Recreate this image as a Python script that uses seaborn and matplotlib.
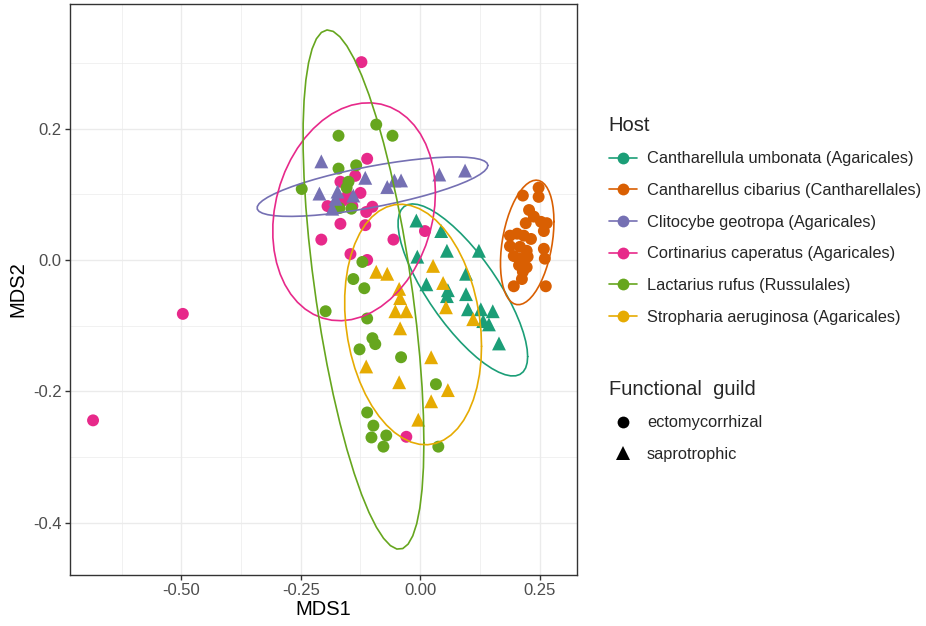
import numpy as np
import pandas as pd
import matplotlib
matplotlib.use("Agg")
import matplotlib.pyplot as plt
from matplotlib.lines import Line2D
import seaborn as sns

# ---------------- data ----------------
hosts = ["Cantharellula umbonata (Agaricales)",
         "Cantharellus cibarius (Cantharellales)",
         "Clitocybe geotropa (Agaricales)",
         "Cortinarius caperatus (Agaricales)",
         "Lactarius rufus (Russulales)",
         "Stropharia aeruginosa (Agaricales)"]
host_guild = ["saprotrophic", "ectomycorrhizal", "saprotrophic",
              "ectomycorrhizal", "ectomycorrhizal", "saprotrophic"]
guilds = ["ectomycorrhizal", "saprotrophic"]
palette = ["#1B9E77", "#D95F02", "#7570B3", "#E7298A", "#66A61E", "#E6AB02"]

umbonata_x = [-0.008, 0.044, 0.056, 0.123, -0.006, 0.013, 0.058, 0.056, 0.096, 0.096,
              0.100, 0.127, 0.152, 0.132, 0.144, 0.165]
umbonata_y = [0.060, 0.044, 0.014, 0.014, 0.005, -0.037, -0.046, -0.055, -0.021, -0.052,
              -0.075, -0.075, -0.078, -0.093, -0.098, -0.127]

cibarius_x = [0.215, 0.248, 0.248, 0.228, 0.238, 0.221, 0.253, 0.265, 0.259, 0.188,
              0.203, 0.217, 0.232, 0.188, 0.209, 0.223, 0.196, 0.209, 0.225, 0.259,
              0.261, 0.207, 0.223, 0.215, 0.213, 0.196, 0.263]
cibarius_y = [0.098, 0.110, 0.096, 0.076, 0.066, 0.056, 0.058, 0.056, 0.044, 0.037,
              0.040, 0.037, 0.032, 0.021, 0.020, 0.014, 0.006, 0.002, 0.005, 0.017,
              0.002, -0.008, -0.011, -0.018, -0.029, -0.040, -0.040]

geotropa_x = [-0.207, -0.115, -0.054, -0.040, -0.069, 0.040, 0.094, -0.211, -0.173,
              -0.177, -0.140, -0.184]
geotropa_y = [0.150, 0.125, 0.121, 0.121, 0.111, 0.130, 0.136, 0.101, 0.104,
              0.093, 0.098, 0.078]

caperatus_x = [-0.123, -0.497, -0.685, -0.111, -0.136, -0.167, -0.125, -0.152, -0.163,
               -0.194, -0.142, -0.100, -0.113, -0.167, -0.115, -0.207, -0.056, 0.010,
               -0.146, -0.111, -0.029]
caperatus_y = [0.301, -0.082, -0.244, 0.154, 0.128, 0.119, 0.102, 0.098, 0.090,
               0.082, 0.082, 0.081, 0.073, 0.055, 0.053, 0.031, 0.031, 0.044,
               0.009, 0.000, -0.269]

rufus_x = [-0.092, -0.171, -0.058, -0.134, -0.171, -0.150, -0.154, -0.248, -0.169,
           -0.144, -0.121, -0.140, -0.117, -0.198, -0.111, -0.100, -0.094, -0.127,
           -0.040, 0.033, -0.111, -0.098, -0.102, -0.071, -0.077, 0.038]
rufus_y = [0.206, 0.189, 0.189, 0.144, 0.139, 0.119, 0.110, 0.108, 0.079,
           0.078, -0.003, -0.029, -0.043, -0.078, -0.089, -0.119, -0.128, -0.136,
           -0.148, -0.189, -0.232, -0.252, -0.270, -0.267, -0.284, -0.284]

aeruginosa_x = [-0.092, -0.069, -0.044, -0.042, -0.052, -0.029, -0.042, -0.113, -0.044,
                0.023, 0.058, 0.023, -0.004, 0.027, 0.048, 0.054, 0.111]
aeruginosa_y = [-0.018, -0.021, -0.044, -0.058, -0.078, -0.078, -0.104, -0.162, -0.186,
                -0.148, -0.198, -0.215, -0.243, -0.009, -0.035, -0.072, -0.090]

xs = [umbonata_x, cibarius_x, geotropa_x, caperatus_x, rufus_x, aeruginosa_x]
ys = [umbonata_y, cibarius_y, geotropa_y, caperatus_y, rufus_y, aeruginosa_y]

frames = []
for h, g, x, y in zip(hosts, host_guild, xs, ys):
    frames.append(pd.DataFrame({"MDS1": x, "MDS2": y, "Host": h, "Guild": g}))
df = pd.concat(frames, ignore_index=True)

# ------------- robust ellipse (like ggplot2 stat_ellipse, type "t") -------------
def cov_trob(x, nu=5, maxit=25, tol=0.01):
    n, p = x.shape
    wt = np.ones(n)
    loc = x.mean(axis=0)
    w = np.sqrt(wt)
    X = x - loc
    for _ in range(maxit):
        w0 = w
        X = x - loc
        sw = np.sqrt(w / w.sum())
        _, d, Vt = np.linalg.svd(sw[:, None] * X, full_matrices=False)
        wX = X @ Vt.T @ np.diag(1.0 / d)
        Q = (wX ** 2).sum(axis=1)
        w = wt * (nu + p) / (nu + Q)
        loc = (w[:, None] * x).sum(axis=0) / w.sum()
        if np.all(np.abs(w - w0) < tol):
            break
    sX = np.sqrt(w)[:, None] * X
    cov = sX.T @ sX / wt.sum()
    return loc, cov


def ellipse_points(x, y, level=0.95, segments=51):
    pts = np.column_stack([x, y])
    n = len(pts)
    center, shape = cov_trob(pts)
    dfd = n - 1
    qf = dfd / 2.0 * ((1 - level) ** (-2.0 / dfd) - 1)
    radius = np.sqrt(2 * qf)
    L = np.linalg.cholesky(shape)
    ang = np.arange(segments + 1) * 2 * np.pi / segments
    circ = np.column_stack([np.cos(ang), np.sin(ang)])
    return center + radius * circ @ L.T

ells = [ellipse_points(np.array(x), np.array(y)) for x, y in zip(xs, ys)]

# ---------------- plot ----------------
sns.set_theme(style="white")
plt.rcParams["font.family"] = ["Liberation Sans", "DejaVu Sans"]

fig = plt.figure(figsize=(9.26, 6.26), dpi=100)
ax = fig.add_axes([70 / 926, 1 - 575 / 626, (577 - 70) / 926, (575 - 4) / 626])

pal = dict(zip(hosts, palette))
sns.scatterplot(data=df[df.Guild == "ectomycorrhizal"], x="MDS1", y="MDS2", hue="Host",
                hue_order=hosts, palette=pal, marker="o", s=74, linewidth=0,
                legend=False, ax=ax, zorder=3)
sns.scatterplot(data=df[df.Guild == "saprotrophic"], x="MDS1", y="MDS2", hue="Host",
                hue_order=hosts, palette=pal, marker="^", s=100, linewidth=0,
                legend=False, ax=ax, zorder=3)

for e, c in zip(ells, palette):
    ax.plot(e[:, 0], e[:, 1], color=c, lw=1.2, zorder=4)

allx = np.concatenate([df.MDS1.values] + [e[:, 0] for e in ells])
ally = np.concatenate([df.MDS2.values] + [e[:, 1] for e in ells])
rx = allx.max() - allx.min()
ry = ally.max() - ally.min()
ax.set_xlim(allx.min() - 0.05 * rx, allx.max() + 0.05 * rx)
ax.set_ylim(ally.min() - 0.05 * ry, ally.max() + 0.05 * ry)

xt = [-0.50, -0.25, 0.00, 0.25]
yt = [-0.4, -0.2, 0.0, 0.2]
ax.set_xticks(xt)
ax.set_xticklabels(["-0.50", "-0.25", "0.00", "0.25"])
ax.set_yticks(yt)
ax.set_yticklabels(["-0.4", "-0.2", "0.0", "0.2"])
ax.set_xticks([-0.625, -0.375, -0.125, 0.125], minor=True)
ax.set_yticks([-0.3, -0.1, 0.1, 0.3], minor=True)
ax.grid(True, which="major", color="#EBEBEB", lw=1.0, zorder=0)
ax.grid(True, which="minor", color="#EBEBEB", lw=0.5, zorder=0)
ax.set_axisbelow(True)
for s in ax.spines.values():
    s.set_color("#333333")
    s.set_linewidth(1.0)
ax.tick_params(axis="both", which="major", length=3.5, width=1.0, color="#333333",
               labelcolor="#4D4D4D", labelsize=12, pad=2.5, bottom=True, left=True)
ax.tick_params(axis="both", which="minor", length=0)
ax.set_xlabel("MDS1", fontsize=14.5, color="black", labelpad=1)
ax.set_ylabel("MDS2", fontsize=14.5, color="black", labelpad=4)

# ---------------- legends ----------------
host_handles = [Line2D([0], [0], color=c, lw=1.2, marker="o", markersize=8.5,
                       markeredgewidth=0) for c in palette]
leg1 = fig.legend(host_handles, hosts, title="Host", loc="upper left",
                  bbox_to_anchor=(602 / 926, 1 - 109 / 626), frameon=False,
                  fontsize=11.8, title_fontsize=14.5, alignment="left",
                  handlelength=1.75, handletextpad=0.6, labelspacing=1.02,
                  borderaxespad=0)

guild_handles = [Line2D([0], [0], color="black", lw=0, marker="o", markersize=8.5,
                        markeredgewidth=0),
                 Line2D([0], [0], color="black", lw=0, marker="^", markersize=10,
                        markeredgewidth=0)]
leg2 = fig.legend(guild_handles, guilds, title="Functional  guild", loc="upper left",
                  bbox_to_anchor=(602 / 926, 1 - 373 / 626), frameon=False,
                  fontsize=11.8, title_fontsize=14.5, alignment="left",
                  handlelength=1.75, handletextpad=0.6, labelspacing=1.02,
                  borderaxespad=0)

fig.savefig("out.png", dpi=100, facecolor="white")
